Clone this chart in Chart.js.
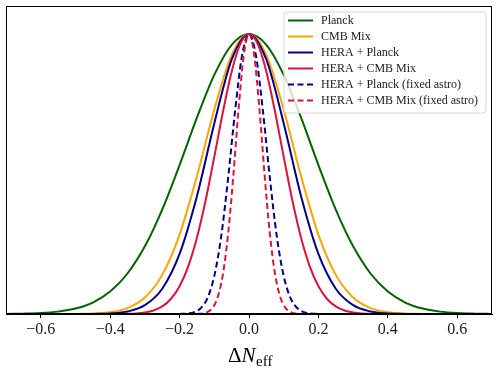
<!DOCTYPE html>
<html lang="en">
<head>
<meta charset="UTF-8">
<title>Delta N_eff posteriors</title>
<script src="https://cdn.jsdelivr.net/npm/chart.js@4.4.0/dist/chart.umd.min.js"></script>
<style>
  body { margin: 0; background: #fff; }
</style>
</head>
<body>
<canvas id="chart" width="498" height="372"></canvas>
<script>
// x ticks
const tickValues = [-0.6, -0.4, -0.2, 0.0, 0.2, 0.4, 0.6];

// Planck
const planckX = [-0.7, -0.65, -0.6, -0.55, -0.5, -0.45, -0.4, -0.35, -0.3, -0.25, -0.2, -0.15, -0.1, -0.05, 0,
                 0.05, 0.1, 0.15, 0.2, 0.25, 0.3, 0.35, 0.4, 0.45, 0.5, 0.55, 0.6, 0.65, 0.7];
const planckY = [0.0004, 0.0013, 0.0034, 0.0085, 0.0194, 0.0409, 0.0801, 0.1447, 0.2416, 0.3730, 0.5320, 0.7011, 0.8540, 0.9613, 1,
                 0.9613, 0.8540, 0.7011, 0.5320, 0.3730, 0.2416, 0.1447, 0.0801, 0.0409, 0.0194, 0.0085, 0.0034, 0.0013, 0.0004];

// CMB Mix
const cmbX = [-0.5, -0.45, -0.4, -0.35, -0.3, -0.25, -0.2, -0.15, -0.1, -0.05, 0,
              0.05, 0.1, 0.15, 0.2, 0.25, 0.3, 0.35, 0.4, 0.45, 0.5];
const cmbY = [0.0004, 0.0017, 0.0065, 0.0211, 0.0587, 0.1397, 0.2837, 0.4923, 0.7298, 0.9243, 1,
              0.9243, 0.7298, 0.4923, 0.2837, 0.1397, 0.0587, 0.0211, 0.0065, 0.0017, 0.0004];

// HERA + Planck
const heraPlanckX = [-0.45, -0.4, -0.35, -0.3, -0.25, -0.2, -0.15, -0.1, -0.05, 0,
                     0.05, 0.1, 0.15, 0.2, 0.25, 0.3, 0.35, 0.4, 0.45];
const heraPlanckY = [0.0004, 0.0021, 0.0090, 0.0314, 0.0903, 0.2146, 0.4208, 0.6806, 0.9083, 1,
                     0.9083, 0.6806, 0.4208, 0.2146, 0.0903, 0.0314, 0.0090, 0.0021, 0.0004];

// HERA + CMB Mix
const heraCmbX = [-0.4, -0.375, -0.35, -0.325, -0.3, -0.275, -0.25, -0.225, -0.2, -0.175, -0.15, -0.125, -0.1, -0.075, -0.05, -0.025, 0,
                  0.025, 0.05, 0.075, 0.1, 0.125, 0.15, 0.175, 0.2, 0.225, 0.25, 0.275, 0.3, 0.325, 0.35, 0.375, 0.4];
const heraCmbY = [0.0001, 0.0003, 0.0008, 0.0022, 0.0055, 0.0126, 0.0270, 0.0536, 0.0990, 0.1703, 0.2723, 0.4053, 0.5610, 0.7224, 0.8654, 0.9645, 1,
                  0.9645, 0.8654, 0.7224, 0.5610, 0.4053, 0.2723, 0.1703, 0.0990, 0.0536, 0.0270, 0.0126, 0.0055, 0.0022, 0.0008, 0.0003, 0.0001];

// HERA + Planck (fixed astro)
const heraPlanckFixX = [-0.2, -0.18, -0.16, -0.14, -0.12, -0.1, -0.08, -0.06, -0.04, -0.02, 0,
                        0.02, 0.04, 0.06, 0.08, 0.1, 0.12, 0.14, 0.16, 0.18, 0.2];
const heraPlanckFixY = [0.0003, 0.0015, 0.0060, 0.0198, 0.0561, 0.1353, 0.2780, 0.4868, 0.7261, 0.9231, 1,
                        0.9231, 0.7261, 0.4868, 0.2780, 0.1353, 0.0561, 0.0198, 0.0060, 0.0015, 0.0003];

// HERA + CMB Mix (fixed astro)
const heraCmbFixX = [-0.15, -0.135, -0.12, -0.105, -0.09, -0.075, -0.06, -0.045, -0.03, -0.015, 0,
                     0.015, 0.03, 0.045, 0.06, 0.075, 0.09, 0.105, 0.12, 0.135, 0.15];
const heraCmbFixY = [0.0004, 0.0018, 0.0068, 0.0220, 0.0605, 0.1426, 0.2875, 0.4960, 0.7323, 0.9250, 1,
                     0.9250, 0.7323, 0.4960, 0.2875, 0.1426, 0.0605, 0.0220, 0.0068, 0.0018, 0.0004];

const labels = ["Planck", "CMB Mix", "HERA + Planck", "HERA + CMB Mix",
                "HERA + Planck (fixed astro)", "HERA + CMB Mix (fixed astro)"];
const colors = ["#006400", "#ffa500", "#00008b", "#dc143c", "#00008b", "#dc143c"];
const dashed = [false, false, false, false, true, true];
const seriesX = [planckX, cmbX, heraPlanckX, heraCmbX, heraPlanckFixX, heraCmbFixX];
const seriesY = [planckY, cmbY, heraPlanckY, heraCmbY, heraPlanckFixY, heraCmbFixY];

const serif = "'Liberation Serif', 'DejaVu Serif', serif";
const DASH = [6, 3.5];

const datasets = labels.map((lab, i) => ({
    label: lab,
    data: seriesX[i].map((x, j) => ({ x: x, y: seriesY[i][j] })),
    borderColor: colors[i],
    borderWidth: 2,
    borderDash: dashed[i] ? DASH : [],
    pointRadius: 0,
    fill: false,
    cubicInterpolationMode: "monotone",
    order: labels.length - i
}));

// frame, legend box and the axis title
const extras = {
    id: "extras",
    afterDraw(chart) {
        const c = chart.ctx;
        const a = chart.chartArea;
        c.save();
        c.strokeStyle = "#000";
        c.lineWidth = 1;
        c.strokeRect(a.left + 0.5, a.top + 0.5, a.right - a.left - 1, a.bottom - a.top - 1);

        // legend
        const bx = 284, by = 12, bw = 202, bh = 101, r = 3;
        c.beginPath();
        c.moveTo(bx + r, by);
        c.arcTo(bx + bw, by, bx + bw, by + bh, r);
        c.arcTo(bx + bw, by + bh, bx, by + bh, r);
        c.arcTo(bx, by + bh, bx, by, r);
        c.arcTo(bx, by, bx + bw, by, r);
        c.closePath();
        c.fillStyle = "rgba(255,255,255,0.8)";
        c.fill();
        c.strokeStyle = "#d6d6d6";
        c.stroke();

        c.font = "12px " + serif;
        c.textBaseline = "middle";
        chart.data.datasets.forEach((ds, i) => {
            const y = 20.5 + i * 16;
            c.beginPath();
            c.setLineDash(ds.borderDash);
            c.strokeStyle = ds.borderColor;
            c.lineWidth = 2;
            c.moveTo(288, y);
            c.lineTo(313, y);
            c.stroke();
            c.setLineDash([]);
            c.fillStyle = "#222";
            c.fillText(ds.label, 321, y + 0.5);
        });

        // x title: Delta N_eff
        const cx = 250;
        const base = 362;
        c.fillStyle = "#000";
        c.textBaseline = "alphabetic";
        c.font = "21px " + serif;
        const wD = c.measureText("\u0394").width;
        c.font = "italic 21px " + serif;
        const wN = c.measureText("N").width;
        c.font = "15px " + serif;
        const wE = c.measureText("eff").width;
        let x0 = cx - (wD + wN + wE) / 2;
        c.font = "21px " + serif;
        c.fillText("\u0394", x0, base);
        c.font = "italic 21px " + serif;
        c.fillText("N", x0 + wD, base);
        c.font = "15px " + serif;
        c.fillText("eff", x0 + wD + wN + 0.5, base + 3.5);
        c.restore();
    }
};

new Chart(document.getElementById("chart"), {
    type: "line",
    data: { datasets: datasets },
    options: {
        responsive: false,
        animation: false,
        devicePixelRatio: 1,
        layout: { padding: { left: 6, right: 6, top: 6, bottom: 0 } },
        plugins: { legend: { display: false }, tooltip: { enabled: false } },
        scales: {
            x: {
                type: "linear",
                min: -0.7,
                max: 0.7,
                afterBuildTicks: s => { s.ticks = tickValues.map(v => ({ value: v })); },
                afterFit: s => { s.height = 58; },
                grid: { drawOnChartArea: false, tickLength: 4, tickColor: "#000" },
                border: { display: true, color: "#000", width: 1 },
                ticks: {
                    color: "#222",
                    font: { family: serif, size: 16 },
                    padding: 2,
                    maxRotation: 0,
                    callback: v => (v < 0 ? "\u2212" : "") + Math.abs(v).toFixed(1)
                }
            },
            y: { min: 0, max: 1.1, display: false }
        }
    },
    plugins: [extras]
});
</script>
</body>
</html>
